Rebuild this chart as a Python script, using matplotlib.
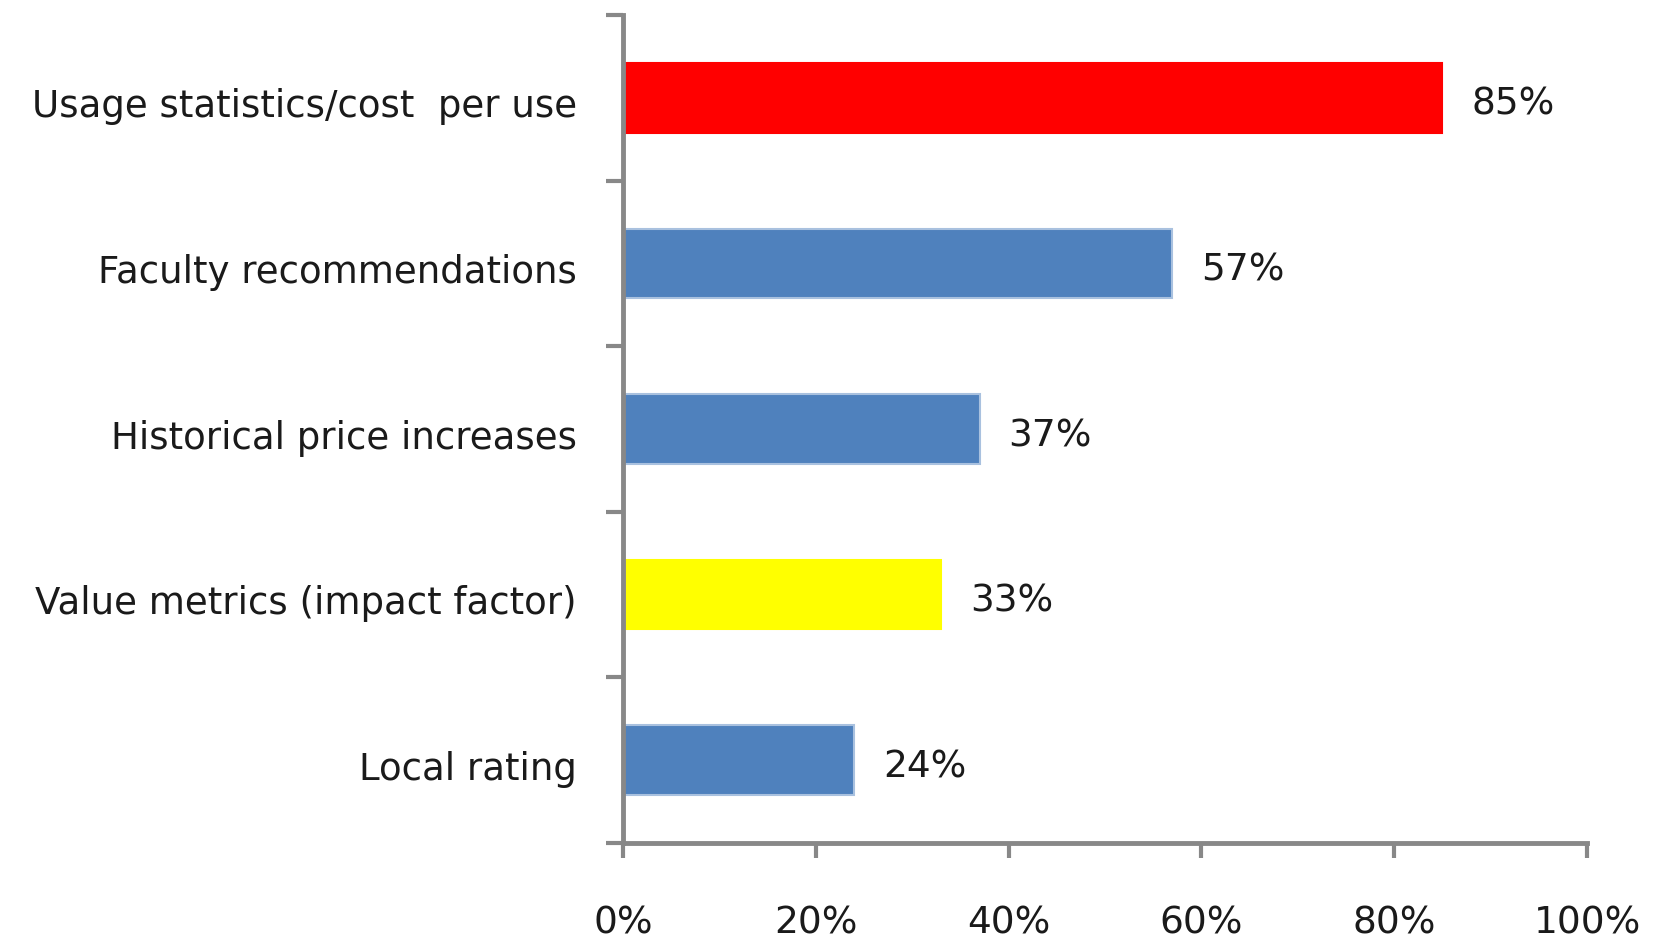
import matplotlib
matplotlib.use("Agg")
import matplotlib.pyplot as plt
import matplotlib.transforms as mtransforms
import numpy as np

categories = ["Usage statistics/cost  per use", "Faculty recommendations", "Historical price increases",
              "Value metrics (impact factor)", "Local rating"]
values = [85, 57, 37, 33, 24]
colors = ["#FF0000", "#4F81BD", "#4F81BD", "#FFFF00", "#4F81BD"]
edges = ["#FF0000", "#A9C1DF", "#A9C1DF", "#FFFF00", "#A9C1DF"]
xticks = [0, 20, 40, 60, 80, 100]
xtick_labels = ["0%", "20%", "40%", "60%", "80%", "100%"]

fig = plt.figure(figsize=(16.61, 9.39), dpi=100)
ax = fig.add_axes([0.375, 0.1022, 0.5805, 0.8818])

y = np.arange(len(categories))
ax.barh(y, values, height=0.42, color=colors, edgecolor=edges, linewidth=1.5, zorder=2)
ax.set_ylim(len(categories) - 0.5, -0.5)
ax.set_xlim(0, 100)

axc = "#888888"
for s in ["top", "right"]:
    ax.spines[s].set_visible(False)
for s in ["left", "bottom"]:
    ax.spines[s].set_color(axc)
    ax.spines[s].set_linewidth(3.5)
    ax.spines[s].set_zorder(3)

shift = mtransforms.ScaledTranslation(0, -5 / 100, fig.dpi_scale_trans)

ax.set_yticks(y)
ax.set_yticklabels(categories, fontsize=26.7, color="#1a1a1a")
ax.tick_params(axis="y", which="major", length=0, pad=33)
for lab in ax.get_yticklabels():
    lab.set_transform(lab.get_transform() + shift)
ax.set_yticks(np.arange(len(categories) + 1) - 0.5, minor=True)
ax.tick_params(axis="y", which="minor", length=12, width=3, color=axc, direction="out")

ax.set_xticks(xticks)
ax.set_xticklabels(xtick_labels, fontsize=27, color="#1a1a1a")
ax.tick_params(axis="x", which="major", length=11, width=3, color=axc, direction="out", pad=34)

for yi, v in zip(y, values):
    ax.text(v + 3.0, yi, f"{v}%", va="center", ha="left", fontsize=27, color="#1a1a1a",
            transform=ax.transData + mtransforms.ScaledTranslation(0, -7 / 100, fig.dpi_scale_trans))

fig.savefig("out.png", dpi=100)
